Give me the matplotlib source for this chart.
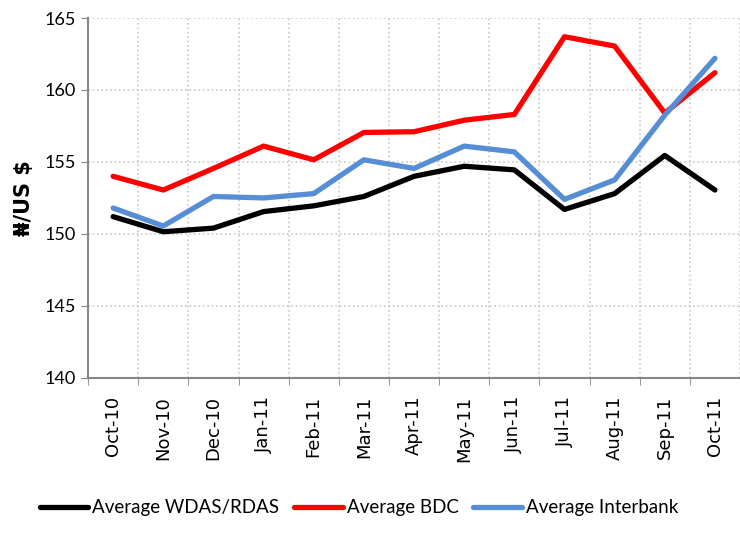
import numpy as np
import matplotlib
matplotlib.use("Agg")
import matplotlib.pyplot as plt

# monthly averages, N/US$
months = ["Oct-10", "Nov-10", "Dec-10", "Jan-11", "Feb-11", "Mar-11", "Apr-11",
          "May-11", "Jun-11", "Jul-11", "Aug-11", "Sep-11", "Oct-11"]
wdas = [151.2, 150.15, 150.4, 151.55, 151.95, 152.6, 154.0, 154.7, 154.45, 151.7, 152.8, 155.45, 153.05]
bdc = [154.0, 153.05, 154.55, 156.1, 155.15, 157.05, 157.1, 157.9, 158.3, 163.7, 163.05, 158.4, 161.2]
interbank = [151.8, 150.55, 152.6, 152.5, 152.8, 155.15, 154.55, 156.1, 155.7, 152.4, 153.75, 158.25, 162.2]

fig = plt.figure(figsize=(7.4, 5.46), dpi=100)
ax = fig.add_axes([0.119, 0.308, 0.881, 0.659])

x = np.arange(len(months))
ax.plot(x, wdas, color="black", lw=3.8, label="Average WDAS/RDAS", solid_capstyle="round")
ax.plot(x, bdc, color="#ff0000", lw=3.8, label="Average BDC", solid_capstyle="round")
ax.plot(x, interbank, color="#558ed5", lw=3.8, label="Average Interbank", solid_capstyle="round")

ax.set_xlim(-0.5, len(months) - 0.5)
ax.set_ylim(140, 165)
ax.set_yticks([140, 145, 150, 155, 160, 165])
ax.set_xticks(x)
ax.set_xticklabels(months, rotation=90, fontsize=13, family="DejaVu Sans")
ax.set_xticks(np.arange(-0.5, len(months)), minor=True)
ax.tick_params(axis="x", which="major", length=0, pad=13)
ax.tick_params(axis="x", which="minor", length=5, color="#868686")
ax.tick_params(axis="y", length=5, color="#868686", labelsize=13)
for lab in ax.get_yticklabels():
    lab.set_family(["Lato", "DejaVu Sans"])

ax.grid(axis="y", which="major", color="#c8c8c8", ls=":", lw=1.2)
ax.grid(axis="x", which="minor", color="#c8c8c8", ls=":", lw=1.2)
ax.set_axisbelow(True)

for s in ["top", "right"]:
    ax.spines[s].set_visible(False)
ax.spines["left"].set_color("#868686")
ax.spines["bottom"].set_color("#868686")
ax.spines["left"].set_linewidth(1.5)
ax.spines["bottom"].set_linewidth(1.5)

ax.set_ylabel("₦/US $", fontsize=15, fontweight="bold", family="DejaVu Sans", labelpad=8)

fig.legend(loc="center", bbox_to_anchor=(0.485, 0.07), ncol=3, frameon=False,
           prop={"family": ["Lato", "DejaVu Sans"], "size": 13.5},
           handlelength=2.6, handletextpad=0.2, columnspacing=0.8)

fig.savefig("out.png", dpi=100)
